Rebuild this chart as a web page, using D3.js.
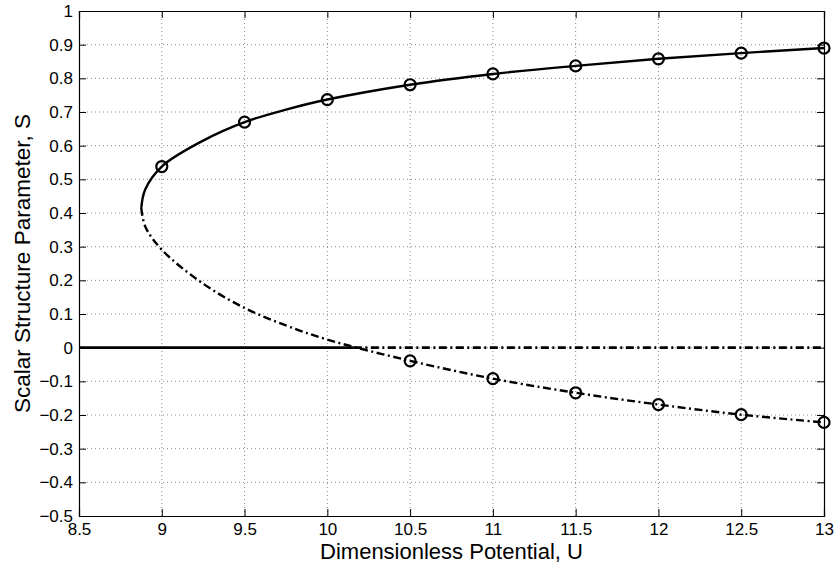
<!DOCTYPE html>
<meta charset="utf-8">
<script src="https://d3js.org/d3.v7.min.js"></script>
<style>
  body { margin: 0; background: #fff; }
  text { font-family: "Liberation Sans", Arial, sans-serif; fill: #000; }
</style>
<svg id="chart" width="835" height="565"></svg>
<script>

// upper (stable) branch
var upperU = [8.876, 8.90, 9.0, 9.25, 9.5, 9.75, 10.0, 10.5, 11.0, 11.5, 12.0, 12.5, 13.0];
var upperS = [0.415, 0.470, 0.538, 0.615, 0.670, 0.707, 0.737, 0.781, 0.813, 0.837, 0.858, 0.875, 0.890];

// lower (unstable) branch
var lowerU = [8.876, 8.90, 9.0, 9.25, 9.5, 9.75, 10.0, 10.5, 11.0, 11.5, 12.0, 12.5, 13.0];
var lowerS = [0.415, 0.360, 0.291, 0.190, 0.118, 0.066, 0.024, -0.039, -0.092, -0.134, -0.169, -0.199, -0.222];

// S = 0 isotropic solution: solid up to the crossing, dash-dot after
var zeroSolidU = [8.5, 10.16];
var zeroDashU = [10.16, 13.0];

// circle markers
var upperMarkU = [9, 9.5, 10, 10.5, 11, 11.5, 12, 12.5, 13];
var upperMarkS = [0.538, 0.670, 0.737, 0.781, 0.813, 0.837, 0.858, 0.875, 0.890];
var lowerMarkU = [10.5, 11, 11.5, 12, 12.5, 13];
var lowerMarkS = [-0.039, -0.092, -0.134, -0.169, -0.199, -0.222];

var xTicks = [8.5, 9, 9.5, 10, 10.5, 11, 11.5, 12, 12.5, 13];
var yTicks = [-0.5, -0.4, -0.3, -0.2, -0.1, 0, 0.1, 0.2, 0.3, 0.4, 0.5, 0.6, 0.7, 0.8, 0.9, 1];

var svg = d3.select("#chart");
var margin = {left: 79, right: 11, top: 11, bottom: 49};
var width = 835 - margin.left - margin.right,
    height = 565 - margin.top - margin.bottom;

var g = svg.append("g").attr("transform", "translate(" + margin.left + "," + margin.top + ")");

var x = d3.scaleLinear().domain([8.5, 13]).range([0, width]);
var y = d3.scaleLinear().domain([-0.5, 1]).range([height, 0]);

var fmt = function(d) { return d < 0 ? "\u2212" + Math.abs(d) : String(d); };

// dotted grid
g.append("g").selectAll("line").data(xTicks.slice(1, -1)).enter().append("line")
  .attr("x1", d => x(d)).attr("x2", d => x(d)).attr("y1", 0).attr("y2", height)
  .attr("stroke", "#888").attr("stroke-width", 1).attr("stroke-dasharray", "1,3");
g.append("g").selectAll("line").data(yTicks.slice(1, -1)).enter().append("line")
  .attr("y1", d => y(d)).attr("y2", d => y(d)).attr("x1", 0).attr("x2", width)
  .attr("stroke", "#888").attr("stroke-width", 1).attr("stroke-dasharray", "1,3");

// axes, ticks inside on all four sides
var tl = 7;
g.append("g").attr("transform", "translate(0," + height + ")")
  .call(d3.axisBottom(x).tickValues(xTicks).tickSize(-tl).tickPadding(7).tickFormat(fmt));
g.append("g")
  .call(d3.axisTop(x).tickValues(xTicks).tickSize(-tl).tickFormat(""));
g.append("g")
  .call(d3.axisLeft(y).tickValues(yTicks).tickSize(-tl).tickPadding(6).tickFormat(fmt));
g.append("g").attr("transform", "translate(" + width + ",0)")
  .call(d3.axisRight(y).tickValues(yTicks).tickSize(-tl).tickFormat(""));

g.selectAll(".domain").attr("stroke", "#000").attr("stroke-width", 1.2);
g.selectAll(".tick line").attr("stroke", "#000");
g.selectAll(".tick text").attr("font-size", 17).attr("font-family", "Liberation Sans, Arial, sans-serif");

// curves
var line = d3.line()
  .x(d => x(d[0])).y(d => y(d[1]))
  .curve(d3.curveCatmullRom.alpha(0.5));

var upper = upperU.map((u, i) => [u, upperS[i]]);
var lower = lowerU.map((u, i) => [u, lowerS[i]]);

g.append("path").datum(upper).attr("d", line)
  .attr("fill", "none").attr("stroke", "#000").attr("stroke-width", 2.4);
g.append("path").datum(lower).attr("d", line)
  .attr("fill", "none").attr("stroke", "#000").attr("stroke-width", 2.4)
  .attr("stroke-dasharray", "8,3.5,2,3.5");

var flat = d3.line().x(d => x(d)).y(y(0));
g.append("path").datum(zeroSolidU).attr("d", flat)
  .attr("fill", "none").attr("stroke", "#000").attr("stroke-width", 2.6);
g.append("path").datum(zeroDashU).attr("d", flat)
  .attr("fill", "none").attr("stroke", "#000").attr("stroke-width", 2.6)
  .attr("stroke-dasharray", "8,3.5,2,3.5");

// markers
var marks = upperMarkU.map((u, i) => [u, upperMarkS[i]])
  .concat(lowerMarkU.map((u, i) => [u, lowerMarkS[i]]));
g.append("g").selectAll("circle").data(marks).enter().append("circle")
  .attr("cx", d => x(d[0])).attr("cy", d => y(d[1])).attr("r", 5.5)
  .attr("fill", "none").attr("stroke", "#000").attr("stroke-width", 2.2);

// axis labels
svg.append("text")
  .attr("x", margin.left + width / 2).attr("y", 559)
  .attr("text-anchor", "middle").attr("font-size", 22)
  .text("Dimensionless Potential, U");
svg.append("text")
  .attr("transform", "translate(30," + (margin.top + height / 2) + ") rotate(-90)")
  .attr("text-anchor", "middle").attr("font-size", 22.5)
  .text("Scalar Structure Parameter, S");

</script>
